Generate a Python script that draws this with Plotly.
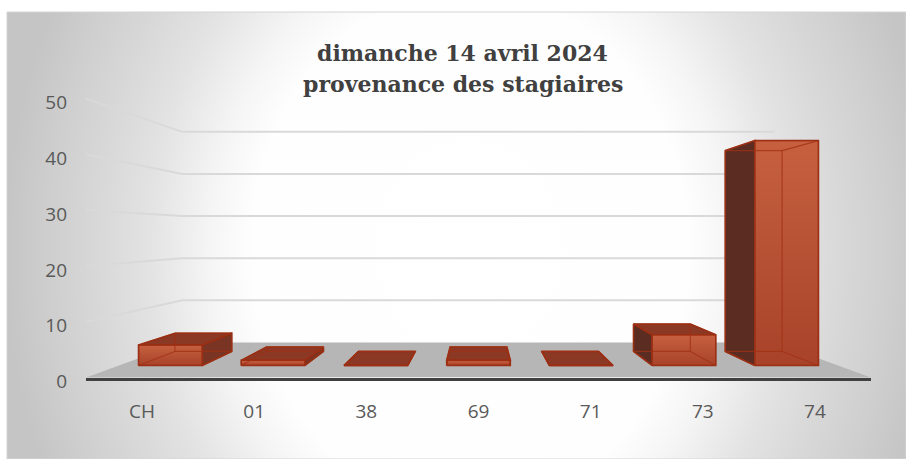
import plotly.graph_objects as go

# ---------------- data ----------------
categories = ["CH", "01", "38", "69", "71", "73", "74"]
values = [4, 1, 0, 1, 0, 6, 44]
y_ticks = [0, 10, 20, 30, 40, 50]
title_line1 = "dimanche 14 avril 2024"
title_line2 = "provenance des stagiaires"

# ---------------- layout geometry (pixels) ----------------
W, H = 906, 459
PX_L, PX_R = 86, 871          # floor front edge
PX_Y0 = 377.5                 # value 0 on the front plane
UNIT_PX = 5.58                # pixels per value unit on the front plane
Y_MAX = 56
FRAME_X0, FRAME_Y0 = 7, 12    # chart frame top-left corner

n = len(categories)
X_LO, X_HI = -0.5, n - 0.5

# pseudo 3-D perspective (front plane = axis units)
VX = (n - 1) / 2
VY = 143 / UNIT_PX
BACK_SCALE = 0.755
C = 1 / BACK_SCALE - 1
BAR_W = 0.62
D_FRONT, D_BACK = 0.283, 0.686


def s(d):
    return 1 / (1 + C * d)


def P(X, Y, d):
    k = s(d)
    return VX + (X - VX) * k, VY + (Y - VY) * k


def poly(pts):
    xy = [P(*p) for p in pts]
    xs = [a for a, _ in xy] + [xy[0][0]]
    ys = [b for _, b in xy] + [xy[0][1]]
    return xs, ys


fig = go.Figure()

# ---------------- background gradient (pixel subplot x/y, clipped to frame) ----------------
GX0, GX1, GY0, GY1 = 5, 935, -300, 800
fig.add_trace(go.Scatter(
    x=[GX0, GX1, GX1, GX0, GX0],
    y=[GY0, GY0, GY1, GY1, GY0],
    mode="lines", line=dict(width=0), fill="toself",
    fillgradient=dict(type="radial", colorscale=[
        [0, "#ffffff"], [0.47, "#fefefe"], [0.56, "#f5f5f5"],
        [0.69, "#e3e3e3"], [0.8, "#d8d8d8"], [0.9, "#cfcfcf"], [1, "#c5c5c5"]]),
    hoverinfo="skip", showlegend=False, xaxis="x", yaxis="y"))

MX, MY = "x2", "y2"

# ---------------- floor ----------------
fx, fy = poly([(X_LO, 0, 0), (X_HI, 0, 0), (X_HI, 0, 1), (X_LO, 0, 1)])
fig.add_trace(go.Scatter(x=fx, y=fy, mode="lines", line=dict(width=0),
                         fill="toself", fillcolor="#b6b6b6",
                         hoverinfo="skip", showlegend=False, xaxis=MX, yaxis=MY))

# ---------------- gridlines: left wall + back wall ----------------
gx, gy = [], []
for v in y_ticks[1:]:
    a = P(X_LO, v, 0)
    b = P(X_LO, v, 1)
    c = P(X_HI, v, 1)
    gx += [a[0], b[0], c[0], None]
    gy += [a[1], b[1], c[1], None]
fig.add_trace(go.Scatter(x=gx, y=gy, mode="lines",
                         line=dict(color="#d9d9d9", width=2),
                         hoverinfo="skip", showlegend=False, xaxis=MX, yaxis=MY))

# ---------------- 3-D bars ----------------
EDGE = "#952e14"
for i, v in enumerate(values):
    X0, X1 = i - BAR_W / 2, i + BAR_W / 2
    d0, d1 = D_FRONT, D_BACK
    faces = []
    if X0 > VX:
        faces.append(("side", poly([(X0, 0, d0), (X0, v, d0), (X0, v, d1), (X0, 0, d1)]), "#5a2c22"))
    elif X1 < VX:
        faces.append(("side", poly([(X1, 0, d0), (X1, v, d0), (X1, v, d1), (X1, 0, d1)]), "#7a3423"))
    if v < VY:
        faces.append(("top", poly([(X0, v, d0), (X1, v, d0), (X1, v, d1), (X0, v, d1)]), "#8b3824"))
    faces.append(("front", poly([(X0, 0, d0), (X1, 0, d0), (X1, v, d0), (X0, v, d0)]), "#b84d31"))

    for kind, (xs, ys), col in faces:
        kw = dict(fillcolor=col)
        if kind == "front" and v > 0:
            kw = dict(fillgradient=dict(type="vertical", colorscale=[
                [0, "#a8432a"], [1, "#c6603f"]]))
        fig.add_trace(go.Scatter(x=xs, y=ys, mode="lines", fill="toself",
                                 line=dict(color=EDGE, width=1.5),
                                 hoverinfo="skip", showlegend=False,
                                 xaxis=MX, yaxis=MY, **kw))
    # all 12 edges (translucent look)
    corners = {}
    for X in (X0, X1):
        for Y in (0, v):
            for d in (d0, d1):
                corners[(X, Y, d)] = P(X, Y, d)
    edges = []
    for Y in (0, v):
        for d in (d0, d1):
            edges.append(((X0, Y, d), (X1, Y, d)))
    for X in (X0, X1):
        for d in (d0, d1):
            edges.append(((X, 0, d), (X, v, d)))
    for X in (X0, X1):
        for Y in (0, v):
            edges.append(((X, Y, d0), (X, Y, d1)))
    ex, ey = [], []
    for a, b in edges:
        pa, pb = corners[a], corners[b]
        ex += [pa[0], pb[0], None]
        ey += [pa[1], pb[1], None]
    fig.add_trace(go.Scatter(x=ex, y=ey, mode="lines",
                             line=dict(color="rgba(160,48,20,0.75)", width=1.2),
                             hoverinfo="skip", showlegend=False, xaxis=MX, yaxis=MY))

# ---------------- title ----------------
TITLE_FONT = dict(family="DejaVu Serif", size=22, color="#404040", weight="bold")
for txt, py in ((title_line1, 52.5), (title_line2, 84)):
    fig.add_annotation(text=txt, xref="paper", yref="paper",
                       x=462.5 / W, y=1 - py / H, xanchor="center", yanchor="middle",
                       showarrow=False, font=TITLE_FONT)

# ---------------- frame ----------------
fig.add_shape(type="rect", xref="paper", yref="paper",
              x0=FRAME_X0 / W, y0=0, x1=1, y1=1 - FRAME_Y0 / H,
              line=dict(color="#d4d4d4", width=1), layer="above")

TICK_FONT = dict(family="Open Sans", size=19, color="#595959")
fig.update_layout(
    width=W, height=H,
    margin=dict(l=0, r=0, t=0, b=0),
    paper_bgcolor="white", plot_bgcolor="rgba(0,0,0,0)",
    showlegend=False, hovermode=False,
    xaxis=dict(domain=[FRAME_X0 / W, 1], range=[FRAME_X0, W], visible=False, fixedrange=True),
    yaxis=dict(domain=[0, 1 - FRAME_Y0 / H], range=[H, FRAME_Y0], visible=False, fixedrange=True),
    xaxis2=dict(domain=[PX_L / W, PX_R / W], range=[X_LO, X_HI], anchor="y2",
                tickvals=list(range(n)), ticktext=categories,
                showgrid=False, zeroline=False, showline=True,
                linecolor="#404040", linewidth=3,
                ticks="", ticklabelstandoff=15, tickfont=TICK_FONT,
                automargin=False, fixedrange=True),
    yaxis2=dict(domain=[1 - PX_Y0 / H, 1 - (PX_Y0 - Y_MAX * UNIT_PX) / H],
                range=[0, Y_MAX], anchor="x2",
                tickvals=y_ticks, ticktext=[str(t) for t in y_ticks],
                showgrid=False, zeroline=False, showline=False,
                ticks="", ticklabelstandoff=18, ticklabelshift=4,
                tickfont=TICK_FONT, automargin=False, fixedrange=True),
)

fig.write_html("out.html",
               config={"displayModeBar": False, "staticPlot": True},
               post_script="document.body.style.margin='0';document.body.style.overflow='hidden';")
